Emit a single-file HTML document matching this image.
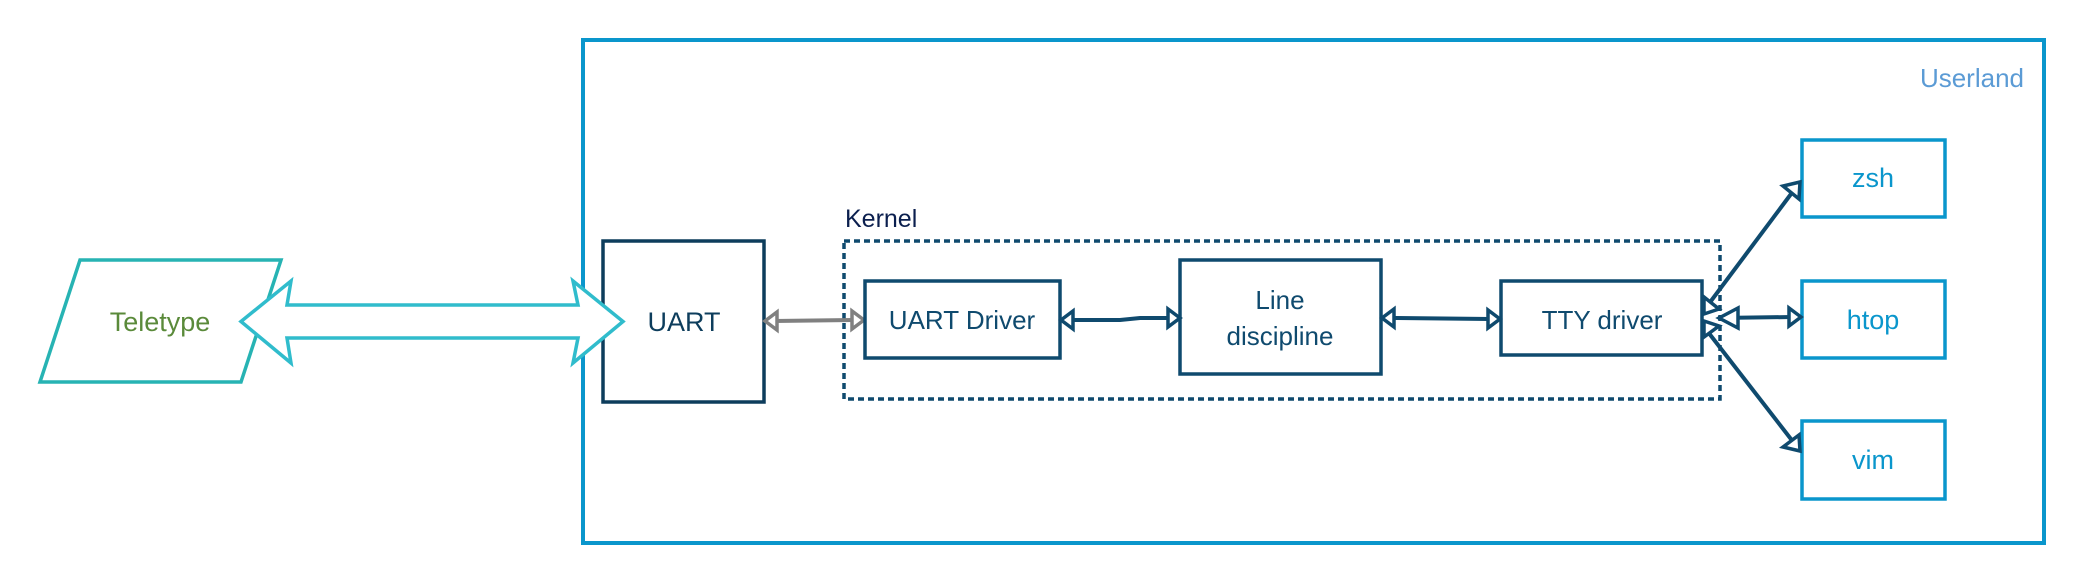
<!DOCTYPE html>
<html><head><meta charset="utf-8"><style>
html,body{margin:0;padding:0;background:#fff}
svg{display:block}
text{font-family:"Liberation Sans",sans-serif}
</style></head><body>
<svg width="2081" height="580" viewBox="0 0 2081 580" xmlns="http://www.w3.org/2000/svg">
<rect x="583" y="40" width="1461" height="503" fill="none" stroke="#0a96cc" stroke-width="4"/>
<text x="2024" y="87" text-anchor="end" font-size="26" fill="#5b9bd5">Userland</text>

<!-- Teletype -->
<polygon points="80,260 281,260 241,382 40,382" fill="#fff" stroke="#27b3b3" stroke-width="3.5"/>
<text x="160" y="331" text-anchor="middle" font-size="27" fill="#5a8a3a">Teletype</text>

<!-- UART -->
<rect x="603" y="241" width="161" height="161" fill="#fff" stroke="#0d3d5c" stroke-width="3.5"/>
<text x="684" y="331" text-anchor="middle" font-size="27" fill="#0d3d5c">UART</text>

<!-- big double arrow -->
<polygon points="241,321.5 291,281 287,305 578,305 573,281 623,321.5 573,363 578,338 287,338 291,363" fill="#fff" stroke="#30bccc" stroke-width="3.5" stroke-linejoin="miter"/>

<!-- Kernel -->
<rect x="844" y="241" width="876" height="158" fill="none" stroke="#0f4a6e" stroke-width="3.5" stroke-dasharray="6,4"/>
<text x="845" y="227" font-size="25" fill="#0b1f4e">Kernel</text>

<!-- gray arrow -->
<line x1="774" y1="321" x2="853" y2="320" stroke="#808080" stroke-width="4"/>
<polygon points="765,321 777,312 777,330" fill="#fff" stroke="#808080" stroke-width="3.5"/>
<polygon points="864,320 852,311 852,329" fill="#fff" stroke="#808080" stroke-width="3.5"/>

<!-- boxes -->
<rect x="865" y="281" width="195" height="77" fill="#fff" stroke="#0f4a6e" stroke-width="3.5"/>
<text x="962" y="329" text-anchor="middle" font-size="26" fill="#0f4a6e">UART Driver</text>

<rect x="1180" y="260" width="201" height="114" fill="#fff" stroke="#0f4a6e" stroke-width="3.5"/>
<text x="1280" y="309" text-anchor="middle" font-size="26" fill="#0f4a6e">Line</text>
<text x="1280" y="345" text-anchor="middle" font-size="26" fill="#0f4a6e">discipline</text>

<rect x="1501" y="281" width="201" height="74" fill="#fff" stroke="#0f4a6e" stroke-width="3.5"/>
<text x="1602" y="329" text-anchor="middle" font-size="26" fill="#0f4a6e">TTY driver</text>

<!-- connectors kernel -->
<polyline points="1071,320 1120,320 1140,318 1170,318" fill="none" stroke="#0f4a6e" stroke-width="4"/>
<polygon points="1061,320 1073,311 1073,329" fill="#fff" stroke="#0f4a6e" stroke-width="3.5"/>
<polygon points="1180,318 1168,309 1168,327" fill="#fff" stroke="#0f4a6e" stroke-width="3.5"/>
<line x1="1392" y1="318" x2="1490" y2="319" stroke="#0f4a6e" stroke-width="4"/>
<polygon points="1382,318 1394,309 1394,327" fill="#fff" stroke="#0f4a6e" stroke-width="3.5"/>
<polygon points="1500,319 1488,310 1488,328" fill="#fff" stroke="#0f4a6e" stroke-width="3.5"/>

<!-- userland apps -->
<rect x="1802" y="140" width="143" height="77" fill="#fff" stroke="#0a96cc" stroke-width="3.5"/>
<text x="1873" y="187" text-anchor="middle" font-size="27" fill="#0a96cc">zsh</text>
<rect x="1802" y="281" width="143" height="77" fill="#fff" stroke="#0a96cc" stroke-width="3.5"/>
<text x="1873" y="329" text-anchor="middle" font-size="27" fill="#0a96cc">htop</text>
<rect x="1802" y="421" width="143" height="78" fill="#fff" stroke="#0a96cc" stroke-width="3.5"/>
<text x="1873" y="469" text-anchor="middle" font-size="27" fill="#0a96cc">vim</text>

<!-- tty to apps -->
<line x1="1708" y1="305" x2="1794" y2="190" stroke="#0f4a6e" stroke-width="4"/>
<line x1="1708" y1="332" x2="1794" y2="443" stroke="#0f4a6e" stroke-width="4"/>
<line x1="1718" y1="318" x2="1792" y2="317" stroke="#0f4a6e" stroke-width="4"/>
<polygon points="1800,182 1783,186 1799,199" fill="#fff" stroke="#0f4a6e" stroke-width="3.5"/>
<polygon points="1800,451 1783,447 1799,435" fill="#fff" stroke="#0f4a6e" stroke-width="3.5"/>
<polygon points="1801,317 1789,308 1789,326" fill="#fff" stroke="#0f4a6e" stroke-width="3.5"/>
<polygon points="1719,318 1738,308 1738,328" fill="#fff" stroke="#0f4a6e" stroke-width="3.5"/>
<polygon points="1704,297 1704,314 1719,309" fill="#fff" stroke="#0f4a6e" stroke-width="3.5"/>
<polygon points="1704,321 1704,337 1719,326" fill="#fff" stroke="#0f4a6e" stroke-width="3.5"/>
</svg>
</body></html>
